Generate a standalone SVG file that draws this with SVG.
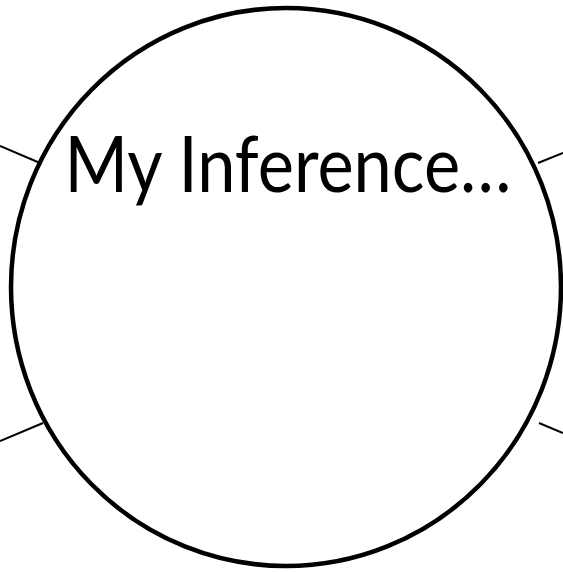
<svg xmlns="http://www.w3.org/2000/svg" width="563" height="572" viewBox="0 0 563 572">
<style>
.conn{stroke:#000;stroke-width:2;fill:none}
.node{stroke:#000;stroke-width:4.5;fill:#fff}
.lbl{font-family:"Lato","Open Sans","Liberation Sans",sans-serif;font-weight:400;font-size:77px;fill:#000}
</style>
<rect width="563" height="572" fill="#fff"/>
<g id="connectors">
<line class="conn" x1="0" y1="146" x2="40" y2="163"/>
<line class="conn" x1="0" y1="441" x2="43" y2="423"/>
<line class="conn" x1="538" y1="163" x2="563" y2="153"/>
<line class="conn" x1="539" y1="423" x2="563" y2="433"/>
</g>
<g id="inference">
<ellipse class="node" cx="286" cy="287" rx="275" ry="279"/>
<text class="lbl" x="288" y="192" text-anchor="middle" textLength="447" lengthAdjust="spacingAndGlyphs">My Inference…</text>
</g>
</svg>
